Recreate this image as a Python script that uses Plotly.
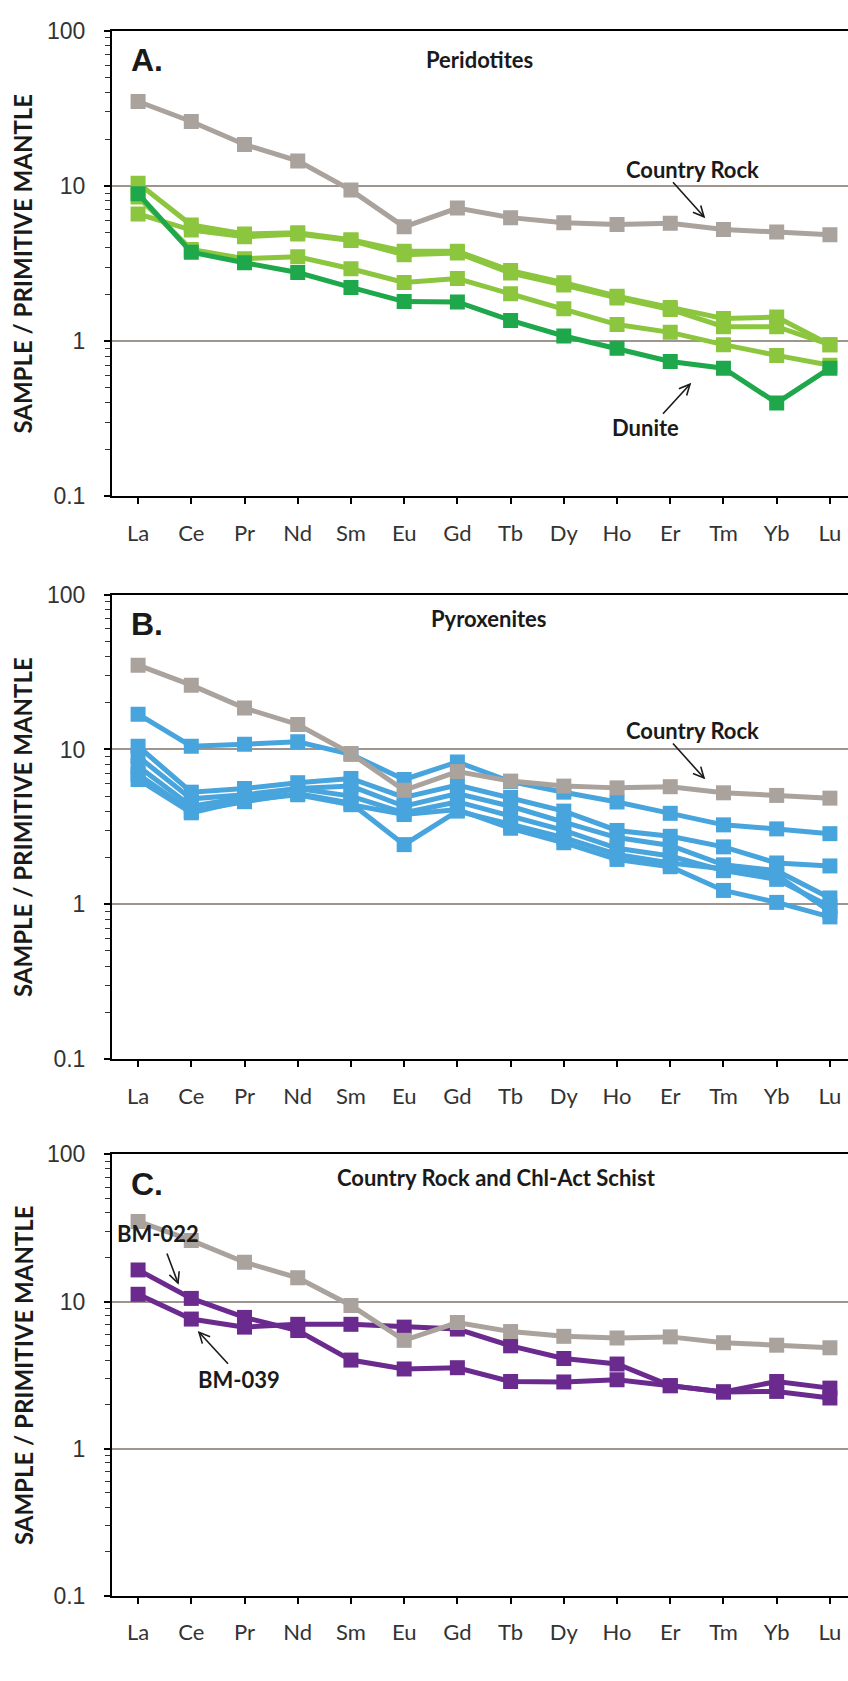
import plotly.graph_objects as go

# Rare earth elements, normalised to primitive mantle
REE = ["La", "Ce", "Pr", "Nd", "Sm", "Eu", "Gd", "Tb", "Dy", "Ho", "Er", "Tm", "Yb", "Lu"]

country_rock = [35.0, 26.0, 18.5, 14.5, 9.4, 5.45, 7.2, 6.25, 5.8, 5.65, 5.75, 5.25, 5.05, 4.85]

# A. Peridotites
peridotite_1 = [10.4, 5.6, 4.9, 5.0, 4.5, 3.8, 3.8, 2.85, 2.38, 1.95, 1.65, 1.40, 1.43, 0.95]
peridotite_2 = [6.6, 5.2, 4.7, 4.9, 4.45, 3.6, 3.7, 2.75, 2.30, 1.90, 1.60, 1.24, 1.24, 0.95]
peridotite_3 = [8.5, 3.9, 3.4, 3.5, 2.93, 2.39, 2.53, 2.02, 1.62, 1.28, 1.14, 0.95, 0.81, 0.70]
dunite = [8.9, 3.74, 3.2, 2.77, 2.22, 1.80, 1.79, 1.36, 1.08, 0.90, 0.74, 0.67, 0.40, 0.67]

# B. Pyroxenites
pyroxenite_1 = [16.9, 10.5, 10.8, 11.2, 9.3, 6.4, 8.3, 6.2, 5.3, 4.58, 3.87, 3.26, 3.07, 2.86]
pyroxenite_2 = [10.5, 5.3, 5.6, 6.1, 6.5, 4.9, 5.9, 4.9, 4.0, 3.0, 2.75, 2.35, 1.85, 1.77]
pyroxenite_3 = [9.0, 4.8, 5.1, 5.6, 5.8, 4.3, 5.2, 4.3, 3.4, 2.7, 2.4, 1.8, 1.65, 1.10]
pyroxenite_4 = [7.8, 4.3, 4.9, 5.6, 5.0, 3.9, 4.6, 3.7, 3.0, 2.3, 2.05, 1.65, 1.45, 0.97]
pyroxenite_5 = [6.9, 4.0, 4.6, 5.2, 4.5, 2.43, 4.0, 3.3, 2.7, 2.1, 1.85, 1.7, 1.55, 0.90]
pyroxenite_6 = [6.4, 3.9, 4.7, 5.1, 4.4, 3.8, 4.1, 3.1, 2.5, 1.95, 1.75, 1.23, 1.03, 0.83]

# C. Chlorite-actinolite schists
bm_022 = [16.4, 10.5, 7.8, 6.35, 4.0, 3.48, 3.55, 2.86, 2.84, 2.94, 2.68, 2.43, 2.86, 2.58]
bm_039 = [11.2, 7.6, 6.7, 7.0, 7.0, 6.7, 6.5, 5.0, 4.1, 3.76, 2.68, 2.43, 2.45, 2.21]

GREY = "#aaa29d"
LIME = "#8cc63f"
GREEN = "#1ea84b"
BLUE = "#48a4dc"
PURPLE = "#6b2a8e"
GRID = "#9e958f"

W, H = 848, 1681


def P(x, y):
    """Pixel position -> paper coordinates."""
    return x / W, 1 - y / H


fig = go.Figure()


def add_series(values, color, ax, name):
    fig.add_trace(go.Scatter(
        x=REE, y=values, name=name, mode="lines+markers",
        line=dict(color=color, width=5),
        marker=dict(symbol="square", size=15, color=color),
        xaxis=ax[0], yaxis=ax[1], showlegend=False,
    ))


# Panel A
A = ("x", "y")
add_series(country_rock, GREY, A, "Country Rock")
for i, s in enumerate([peridotite_2, peridotite_3, peridotite_1]):
    add_series(s, LIME, A, f"Peridotite {i + 1}")
add_series(dunite, GREEN, A, "Dunite")

# Panel B
B = ("x2", "y2")
for i, s in enumerate([pyroxenite_1, pyroxenite_2, pyroxenite_3, pyroxenite_4, pyroxenite_5, pyroxenite_6]):
    add_series(s, BLUE, B, f"Pyroxenite {i + 1}")
add_series(country_rock, GREY, B, "Country Rock")

# Panel C
C = ("x3", "y3")
add_series(bm_022, PURPLE, C, "BM-022")
add_series(bm_039, PURPLE, C, "BM-039")
add_series(country_rock, GREY, C, "Country Rock")

# panel frames in pixels: (top, bottom)
panels = [(18, 491), (590.7, 1062.7), (1159.3, 1607.7)]
x_left = 112

minor_vals = [m * d for d in (0.1, 1, 10) for m in range(2, 10)]

layout = dict(
    width=W, height=H, margin=dict(l=0, r=0, t=0, b=0),
    paper_bgcolor="white", plot_bgcolor="white",
)

for i, (top, bot) in enumerate(panels):
    suffix = "" if i == 0 else str(i + 1)
    ydom = [1 - bot / H, 1 - top / H]
    layout["xaxis" + suffix] = dict(
        type="category", categoryorder="array", categoryarray=REE,
        range=[-0.49, 13.34], domain=[x_left / W, 1],
        anchor="y" + suffix,
        showline=True, linecolor="black", linewidth=2, mirror=True,
        ticks="outside", ticklen=6, tickwidth=1.5, tickcolor="black",
        tickfont=dict(family="Lato", size=22, color="#333333"),
        ticklabelstandoff=10,
        showgrid=False, zeroline=False,
    )
    layout["yaxis" + suffix] = dict(
        type="log", range=[-1, 2], domain=ydom, anchor="x" + suffix,
        showline=True, linecolor="black", linewidth=2,
        ticks="outside", ticklen=6, tickwidth=1.5, tickcolor="black",
        tickvals=[0.1, 1, 10, 100], ticktext=["0.1", "1", "10", "100"],
        tickfont=dict(family="Liberation Sans", size=23, color="#333333"),
        ticklabelstandoff=14,
        showgrid=True, gridcolor=GRID, gridwidth=2,
        minor=dict(tickvals=minor_vals, ticks="outside", ticklen=5,
                   tickwidth=1.2, tickcolor="#333333", showgrid=False),
        zeroline=False,
    )

fig.update_layout(**layout)

annotations = []
shapes = []


def text(label, x, y, size=22, family="Lato", anchor="left", angle=0, bold=True):
    px, py = P(x, y)
    annotations.append(dict(
        text=f"<b>{label}</b>" if bold else label,
        x=px, y=py, xref="paper", yref="paper",
        xanchor=anchor, yanchor="middle", showarrow=False, textangle=angle,
        font=dict(family=family, size=size, color="#1a1a1a"),
    ))


def arrow(x0, y0, x1, y1, head=12, spread=0.45):
    import math
    ang = math.atan2(y1 - y0, x1 - x0)
    pts = []
    for s in (-spread, spread):
        pts.append((x1 - head * math.cos(ang + s), y1 - head * math.sin(ang + s)))
    a0, b0 = P(x0, y0)
    a1, b1 = P(x1, y1)
    shapes.append(dict(type="line", xref="paper", yref="paper",
                       x0=a0, y0=b0, x1=a1, y1=b1,
                       line=dict(color="#1a1a1a", width=1.6)))
    (h1x, h1y), (h2x, h2y) = [P(*p) for p in pts]
    shapes.append(dict(type="path", xref="paper", yref="paper",
                       path=f"M {h1x},{h1y} L {a1},{b1} L {h2x},{h2y}",
                       line=dict(color="#1a1a1a", width=1.6)))


for (top, bot), letter in zip(panels, ["A.", "B.", "C."]):
    text(letter, 129, top + 30, size=32, family="Liberation Sans")
    text("SAMPLE / PRIMITIVE MANTLE", 23, (top + bot) / 2, size=24, anchor="center", angle=-90)

text("Peridotites", 424, 47)
text("Pyroxenites", 429, 615)
text("Country Rock and Chl-Act Schist", 335, 1183)

text("Country Rock", 624, 159)
arrow(673, 172, 704, 207)
text("Dunite", 610, 421)
arrow(663, 407, 690, 377)

text("Country Rock", 624, 729)
arrow(673, 742, 704, 777)

text("BM-022", 115, 1240)
arrow(167, 1260, 178, 1290)
text("BM-039", 196, 1388)
arrow(228, 1372, 199, 1340)

fig.update_layout(annotations=annotations, shapes=shapes)

fig.write_html("out.html")
